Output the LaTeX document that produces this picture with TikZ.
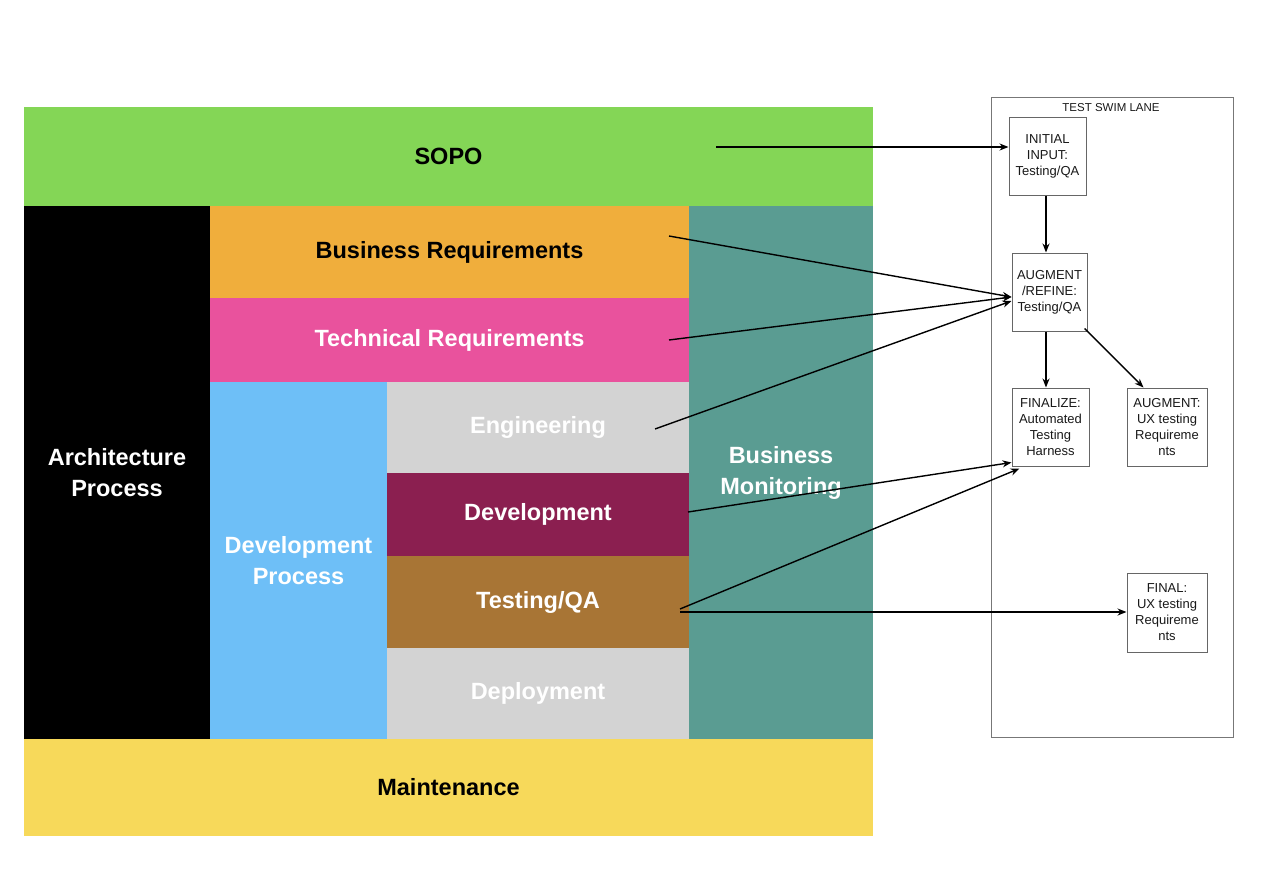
\documentclass[tikz,border=0pt]{standalone}
\usepackage{fontspec}
\setmainfont{Liberation Sans}
\usetikzlibrary{arrows.meta,calc}
\definecolor{sopoG}{HTML}{84D656}
\definecolor{bizO}{HTML}{F0AE3C}
\definecolor{techP}{HTML}{E9529D}
\definecolor{devB}{HTML}{6EBFF7}
\definecolor{lgray}{HTML}{D3D3D3}
\definecolor{devM}{HTML}{8B1F50}
\definecolor{testB}{HTML}{A87535}
\definecolor{monT}{HTML}{5A9C92}
\definecolor{maintY}{HTML}{F7D95A}
\definecolor{laneG}{HTML}{777777}
\definecolor{boxG}{HTML}{666666}
\tikzset{
  block/.style={draw=none, inner sep=0pt, align=center, font=\fontsize{23.5}{31}\selectfont\bfseries},
  lanebox/.style={draw=boxG, line width=1pt, inner sep=0pt, align=center, font=\fontsize{13}{16}\selectfont, text=black!90},
  arr/.style={line width=1.4pt, -{Stealth[length=9pt,width=7pt]}}
}
\begin{document}
\begin{tikzpicture}[x=1pt,y=-1pt]
\useasboundingbox (0,0) rectangle (1274,872);
\fill[white] (0,0) rectangle (1274,872);
% main blocks
\node[block, fill=sopoG, minimum width=849pt, minimum height=99pt, text=black] (sopo) at (448.5,156.5) {SOPO};
\node[block, fill=black, minimum width=186pt, minimum height=533pt, text=white] (arch) at (117,472.5) {Architecture\\Process};
\node[block, fill=bizO, minimum width=479pt, minimum height=92pt, text=black] (biz) at (449.5,252) {Business Requirements};
\node[block, fill=techP, minimum width=479pt, minimum height=84pt, text=white] (tech) at (449.5,340) {Technical Requirements};
\node[block, fill=devB, minimum width=177pt, minimum height=357pt, text=white] (devp) at (298.5,560.5) {Development\\Process};
\node[block, fill=lgray, minimum width=302pt, minimum height=91pt, text=white] (eng) at (538,427.5) {Engineering};
\node[block, fill=devM, minimum width=302pt, minimum height=84pt, text=white] (dev) at (538,514.5) {Development};
\node[block, fill=testB, minimum width=302pt, minimum height=92pt, text=white] (test) at (538,602) {Testing/QA};
\node[block, fill=lgray, minimum width=302pt, minimum height=91pt, text=white] (depl) at (538,693.5) {Deployment};
\node[block, fill=monT, minimum width=184pt, minimum height=533pt, text=white] (mon) at (781,472.5) {Business\\Monitoring};
\node[block, fill=maintY, minimum width=849pt, minimum height=97pt, text=black] (maint) at (448.5,787.5) {Maintenance};
% swim lane
\node[draw=laneG, line width=0.8pt, minimum width=242pt, minimum height=640pt, inner sep=0pt] (lane) at (1112,417) {};
\node[font=\fontsize{11.5}{13}\selectfont, text=black!90, inner sep=0pt] (lanetitle) at (1111,108) {TEST SWIM LANE};
\node[lanebox, minimum width=77pt, minimum height=77pt] (init) at (1047.5,156.5) {INITIAL\\INPUT:\\Testing/QA};
\node[lanebox, minimum width=75pt, minimum height=78pt] (aug) at (1049.5,292) {AUGMENT\\/REFINE:\\Testing/QA};
\node[lanebox, minimum width=77pt, minimum height=78pt] (fin) at (1050.5,427) {FINALIZE:\\Automated\\Testing\\Harness};
\node[lanebox, minimum width=80pt, minimum height=78pt] (augux) at (1167,427) {AUGMENT:\\UX testing\\Requireme\\nts};
\node[lanebox, minimum width=80pt, minimum height=79pt] (finux) at (1167,612.5) {FINAL:\\UX testing\\Requireme\\nts};
% arrow start points
\coordinate (sSopo) at (716,147);
\coordinate (sBiz) at (669,236);
\coordinate (sTech) at (669,340);
\coordinate (sEng) at (655,429);
\coordinate (sDev) at (688,512);
\coordinate (sTest) at (680,609);
\coordinate (sTest2) at (680,612);
% arrows
\draw[arr] (sSopo) -- (sSopo -| init.west);
\draw[arr] (init.south -| 1046,0) -- (aug.north -| 1046,0);
\draw[arr] (sBiz) -- ($(aug.west)+(0,5)$);
\draw[arr] (sTech) -- ($(aug.west)+(0,5)$);
\draw[arr] (sEng) -- ($(aug.west)+(0,9)$);
\draw[arr] (aug.south -| 1046,0) -- (fin.north -| 1046,0);
\draw[arr] ($(aug.south east)+(-3,-3)$) -- ($(augux.north west)+(17,0)$);
\draw[arr] (sDev) -- ($(fin.south west)+(0,-4)$);
\draw[arr] (sTest) -- ($(fin.south west)+(8,2)$);
\draw[arr] (sTest2) -- (sTest2 -| finux.west);
\end{tikzpicture}
\end{document}
